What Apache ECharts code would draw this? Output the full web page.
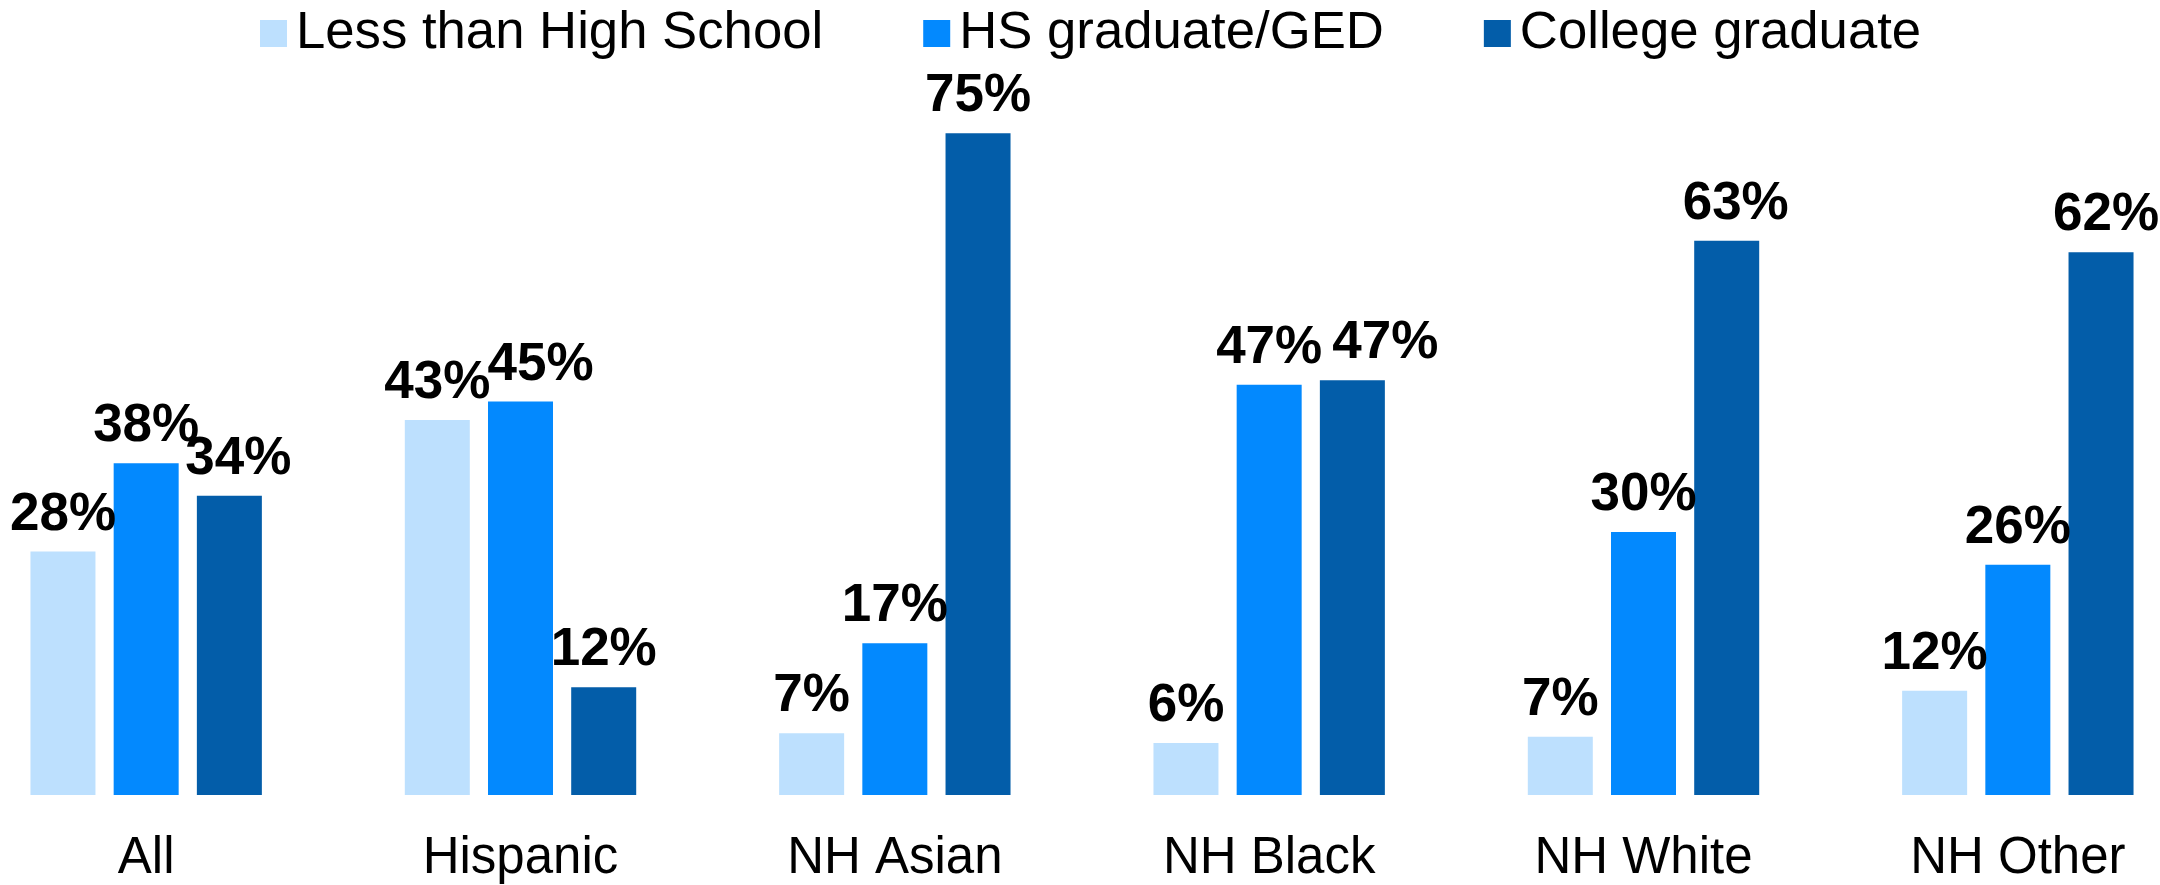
<!DOCTYPE html>
<html>
<head>
<meta charset="utf-8">
<script src="https://cdn.jsdelivr.net/npm/echarts@6/dist/echarts.min.js"></script>
<style>
html,body{margin:0;padding:0;background:#fff;}
#chart{width:2160px;height:885px;}
</style>
</head>
<body>
<div id="chart"></div>
<script>
const categories = ['All', 'Hispanic', 'NH Asian', 'NH Black', 'NH White', 'NH Other'];
const seriesNames = ['Less than High School', 'HS graduate/GED', 'College graduate'];
const lessThanHS = [27.6, 42.5, 7.0, 5.9, 6.6, 11.8];
const hsGraduate = [37.6, 44.6, 17.2, 46.5, 29.8, 26.1];
const collegeGraduate = [33.9, 12.2, 75.0, 47.0, 62.8, 61.5];
const colors = ['#BDE0FE', '#0389FE', '#035DA9'];

// horizontal nudges of individual value labels (as in the reference)
const labelShift = [
  [0, 0, 0, 0, 0, 0],
  [0, 20, 0, 0, 0, 0],
  [9, 0, 0, 33, 9, 5]
];

const font = 'Liberation Sans, Arial, Helvetica, sans-serif';
const chart = echarts.init(document.getElementById('chart'), null, {renderer: 'canvas'});

function mkSeries(idx, name, data, color) {
  return {
    name: name,
    type: 'bar',
    data: data.map((v, i) => labelShift[idx][i] ? {value: v, label: {offset: [labelShift[idx][i], 0]}} : v),
    barWidth: 65,
    barGap: '28%',
    itemStyle: {color: color},
    label: {
      show: true,
      position: 'top',
      distance: 10,
      color: '#000',
      fontFamily: font,
      fontWeight: 'bold',
      fontSize: 53,
      formatter: p => Math.round(p.value) + '%'
    },
    emphasis: {disabled: true}
  };
}

chart.setOption({
  animation: false,
  legend: {
    left: 255,
    top: 2,
    itemWidth: 27,
    itemHeight: 27,
    itemGap: 100,
    icon: 'rect',
    textStyle: {fontFamily: font, fontSize: 52.7, color: '#000', padding: [0, 0, 0, 4]},
    data: seriesNames
  },
  grid: {left: -41, right: -45, top: 89, bottom: 90, containLabel: false, outerBoundsMode: 'none'},
  xAxis: {
    type: 'category',
    data: categories,
    axisLine: {show: false},
    axisTick: {show: false},
    axisLabel: {fontFamily: font, fontSize: 51, color: '#000', margin: 38, interval: 0}
  },
  yAxis: {
    type: 'value',
    min: 0,
    max: 80,
    show: false,
    splitLine: {show: false}
  },
  series: [
    mkSeries(0, seriesNames[0], lessThanHS, colors[0]),
    mkSeries(1, seriesNames[1], hsGraduate, colors[1]),
    mkSeries(2, seriesNames[2], collegeGraduate, colors[2])
  ]
});
</script>
</body>
</html>
